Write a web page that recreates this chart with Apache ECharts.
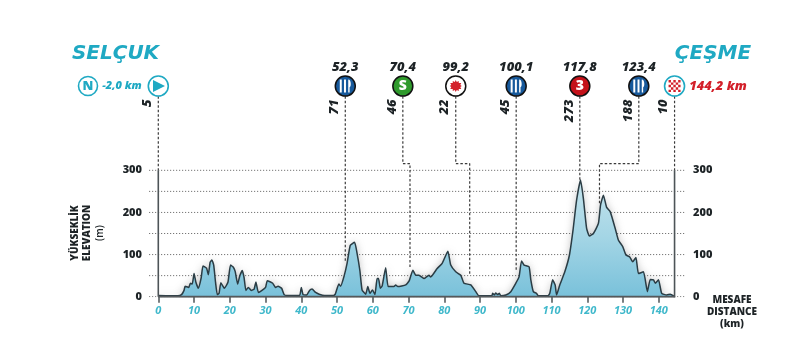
<!DOCTYPE html>
<html><head><meta charset="utf-8">
<style>html,body{margin:0;padding:0;background:#fff}#c{width:800px;height:364px}</style>
<script src="https://cdn.jsdelivr.net/npm/echarts@6/dist/echarts.min.js"></script>
</head><body><div id="c"></div>
<script>
const km=[0,5.5,6.5,7.2,7.5,8.5,9,9.5,10,10.5,11.2,12,12.5,13.5,14,14.5,15,15.5,16,16.5,17,17.5,18.5,19.5,20.2,21,21.5,22.2,22.8,23.5,24,24.5,25.2,26,26.8,27.3,28,29,30,30.5,32,32.8,33.5,34.5,35.2,36,39.5,40,40.5,41.5,42.3,43,44,45,46.5,49,49.5,50.5,51,52,52.8,53.7,54.9,55.6,56.4,57,58,58.6,59.2,59.9,60.6,61.2,61.6,62.1,62.6,63.6,64.3,65.9,66.4,67,69.2,70.2,71.2,72,72.9,74.3,75.7,76.2,78,79.4,81,81.8,83.2,84.6,85.5,87.4,88.8,89.7,91.6,93.3,93.5,94,94.4,94.9,95.4,95.8,97.2,98.6,100,100.9,101.6,102.3,103.7,104.2,104.9,105.8,106.3,109,109.5,110.3,111,111.4,112.3,113.7,115,116,117,118.1,118.9,119.8,120.6,121.7,123.1,123.7,124.5,125.4,126.4,127.8,128.7,129.9,130.8,131.8,132.7,133.6,134.3,135.7,136.8,137.6,138.5,139,139.9,140.8,142.2,143.2,144.2];
const elev=[3,2,5,15,25,22,32,30,55,35,20,45,73,68,52,82,87,75,35,5,8,33,20,35,75,70,60,30,50,62,45,15,22,15,18,35,10,15,22,38,32,22,25,20,5,3,3,22,5,4,15,18,10,6,3,3,6,30,25,50,79,122,129,103,61,16,6,24,8,16,5,43,43,20,25,69,24,24,28,24,28,38,63,51,51,43,51,47,67,79,108,75,59,51,32,28,12,2,2,2,8,4,9,5,8,2,4,12,32,47,85,75,71,40,12,8,2,2,8,40,28,4,28,59,99,158,229,277,233,162,144,150,174,218,241,212,202,162,134,119,99,95,83,93,55,59,12,41,40,32,40,8,4,6,2];
const yTicks=[0,100,200,300];
const gridLevels=[0,50,100,150,200,250,300];
const xTicks=[0,10,20,30,40,50,60,70,80,90,100,110,120,130,140];
const endKm=144.4;
const stopLabels=['52,3','70,4','99,2','100,1','117,8','123,4'];
const iconKm=[52.3,68.4,83.2,100.1,117.9,134.4];
const targetKm=[52.3,70.4,87.1,100.1,117.9,123.4];
const targetElev=[85,68,51,60,277,218];
const jogElev=[null,316,316,null,null,316];
const leaderValues=['5','71','46','22','45','273','188','10'];
const leaderKm=[0,52.3,68.4,83.2,100.1,117.9,134.4,144.4];
const ICON=500,TOP=476,KMROW=545,VAL=468;
const colors=['#17599b','#2f9a2c','#ffffff','#17599b','#c4121a','#17599b'];
const texts=['','S','','','3',''];
const fork='path://M1 0h3.4v24h-3.4zM8.3 0h3.4v24h-3.4zM15.6 0c3 0 4.4 4 4.4 8s-1.4 6-2 6v10h-2.4z';
const burst='path://M12 0l2 4 4-2 0 4 5 0-2 4 3 2-3 2 2 4-5 0 0 4-4-2-2 4-2-4-4 2 0-4-5 0 2-4-3-2 3-2-2-4 5 0 0-4 4 2z';
const checker='path://M0 0h4v4h-4zM8 0h4v4h-4zM16 0h4v4h-4zM4 4h4v4h-4zM12 4h4v4h-4zM0 8h4v4h-4zM8 8h4v4h-4zM16 8h4v4h-4zM4 12h4v4h-4zM12 12h4v4h-4zM0 16h4v4h-4zM8 16h4v4h-4zM16 16h4v4h-4z';
const font='"Open Sans","Noto Sans",sans-serif';
const wide='"DejaVu Sans",sans-serif';
const teal='#1fa9c3', tick='#3fb8cb', ink='#1d2326';

const series=[];
gridLevels.forEach(v=>series.push({type:'line',silent:true,symbol:'none',z:1,
  data:[[-2.6,v],[147.6,v]],lineStyle:{color:'#777',width:1,type:[1.2,1.8]}}));
series.push({type:'line',name:'profile',symbol:'none',z:3,smooth:0.15,
  data:km.map((k,i)=>[k,elev[i]]),
  lineStyle:{color:'#2a3c44',width:1.5},
  areaStyle:{opacity:1,shadowColor:'rgba(90,90,90,.4)',shadowBlur:8,color:{type:'linear',x:0,y:0,x2:0,y2:1,global:false,colorStops:[{offset:0,color:'#c4e3ec'},{offset:0.5,color:'#a3d5e5'},{offset:1,color:'#79c1da'}]}}});
const dash={color:'#3a3a3a',width:1.2,type:[2.5,2]};
targetKm.forEach((t,i)=>{
  const d=[[iconKm[i],TOP]];
  if(jogElev[i]!==null){d.push([iconKm[i],jogElev[i]]);d.push([t,jogElev[i]]);}
  d.push([t,targetElev[i]]);
  series.push({type:'line',silent:true,symbol:'none',z:4,data:d,lineStyle:dash});
});
[0,endKm].forEach(k=>{
  series.push({type:'line',silent:true,symbol:'none',z:4,data:[[k,TOP],[k,300]],lineStyle:dash});
  series.push({type:'line',silent:true,symbol:'none',z:5,data:[[k,300],[k,k?-15:0]],lineStyle:{color:'#4d5457',width:1.6}});
});
series.push({type:'line',silent:true,symbol:'none',z:5,data:[[0,0],[endKm,0]],lineStyle:{color:'#55595c',width:2}});
series.push({type:'scatter',silent:true,symbolSize:0,z:6,itemStyle:{opacity:1},data:leaderKm.map((k,i)=>({value:[k,VAL],label:{formatter:leaderValues[i]}})),
  label:{show:true,position:'left',distance:11,rotate:90,align:'right',verticalAlign:'middle',color:ink,fontFamily:font,fontStyle:'italic',fontWeight:800,fontSize:13}});
series.push({type:'scatter',silent:true,z:6,symbol:'circle',symbolSize:20,
  data:iconKm.map((k,i)=>({value:[k,ICON],itemStyle:{color:colors[i]},label:{formatter:texts[i]}})),
  itemStyle:{opacity:1,borderColor:'#111',borderWidth:1.5},
  label:{show:true,position:'inside',color:'#fff',fontFamily:font,fontWeight:800,fontSize:14}});
series.push({type:'scatter',silent:true,z:7,symbol:fork,symbolSize:[11,13],data:[0,3,5].map(i=>[iconKm[i],ICON]),itemStyle:{opacity:1,color:'#fff'}});
series.push({type:'scatter',silent:true,z:7,symbol:burst,symbolSize:12,data:[[iconKm[2],ICON]],itemStyle:{opacity:1,color:'#d3202a'}});
series.push({type:'scatter',silent:true,symbolSize:0,z:6,itemStyle:{opacity:1},data:iconKm.map((k,i)=>({value:[k,KMROW],label:{formatter:stopLabels[i]}})),
  label:{show:true,position:'inside',color:ink,fontFamily:font,fontStyle:'italic',fontWeight:800,fontSize:13}});
series.push({type:'scatter',silent:true,z:6,symbol:'circle',symbolSize:20,data:[[0,ICON],[endKm,ICON]],itemStyle:{opacity:1,color:'#fff',borderColor:teal,borderWidth:1.6}});
series.push({type:'scatter',silent:true,z:7,symbol:'triangle',symbolRotate:-90,symbolSize:12,data:[[0.2,ICON]],itemStyle:{opacity:1,color:teal}});
series.push({type:'scatter',silent:true,z:7,symbol:checker,symbolSize:12,data:[[endKm,ICON]],itemStyle:{opacity:1,color:'#d3202a'}});

const t=(x,y,s,o,r)=>({type:'text',x,y,rotation:r||0,silent:true,style:Object.assign({text:s,fontFamily:font,fill:ink,fontWeight:800,fontSize:10,align:'center',verticalAlign:'middle'},o||{})});
const chart=echarts.init(document.getElementById('c'),null,{renderer:'canvas'});
chart.setOption({animation:false,
  grid:{left:149,right:114,top:1.8,bottom:67.3},
  xAxis:{type:'value',min:-2.6,max:147.6,splitLine:{show:false},axisLine:{show:false},
    axisTick:{show:true,customValues:xTicks,length:6,lineStyle:{color:'#4d5457',width:1.5}},
    axisLabel:{customValues:xTicks,margin:9,color:tick,fontFamily:font,fontStyle:'italic',fontWeight:700,fontSize:11}},
  yAxis:[0,1].map(i=>({type:'value',min:0,max:700,position:i?'right':'left',splitLine:{show:false},axisLine:{show:false},axisTick:{show:false},
    axisLabel:{customValues:yTicks,margin:7,color:ink,fontFamily:font,fontWeight:800,fontSize:11}})),
  series,
  graphic:[
    t(115.5,54,'SELÇUK',{fontFamily:wide,fontStyle:'italic',fontWeight:700,fontSize:20,fill:teal}),
    t(713,54,'ÇEŞME',{fontFamily:wide,fontStyle:'italic',fontWeight:700,fontSize:20,fill:teal}),
    t(122,86,'-2,0 km',{fontStyle:'italic',fontSize:11,fill:teal}),
    t(718,86,'144,2 km',{fontStyle:'italic',fontSize:13,fill:'#d3202a'}),
    {type:'circle',silent:true,shape:{cx:88,cy:86,r:9.5},style:{fill:'#fff',stroke:teal,lineWidth:1.6}},
    t(88,86,'N',{fontSize:13,fill:teal}),
    t(75,233,'YÜKSEKLİK',{},Math.PI/2),
    t(87,233,'ELEVATION',{},Math.PI/2),
    t(100,233,'(m)',{fontWeight:600},Math.PI/2),
    t(732,300,'MESAFE'),t(732,312,'DISTANCE'),t(732,324,'(km)')
  ]});
</script></body></html>
